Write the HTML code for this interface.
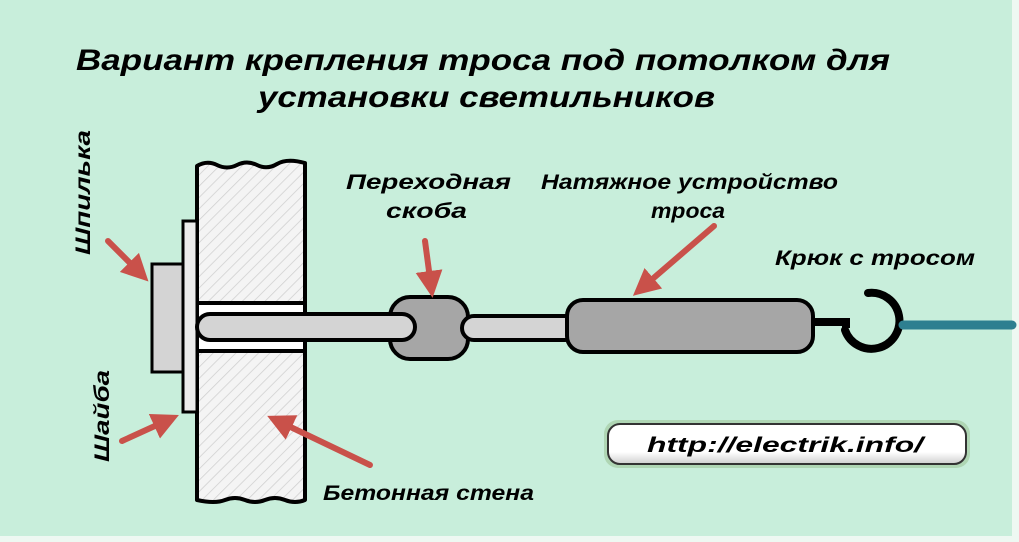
<!DOCTYPE html>
<html><head><meta charset="utf-8"><style>
html,body{margin:0;padding:0;background:#c8eedb;}
svg{display:block}
text{font-family:"Liberation Sans","DejaVu Sans",sans-serif;font-weight:bold;font-style:italic;fill:#000}
</style></head><body>
<svg width="1019" height="542" viewBox="0 0 1019 542" xmlns="http://www.w3.org/2000/svg">
<defs>
<pattern id="h" width="8" height="8" patternUnits="userSpaceOnUse" patternTransform="rotate(45)">
<rect width="8" height="8" fill="#f4f4f4"/><line x1="0" y1="0" x2="0" y2="8" stroke="#cfcfcf" stroke-width="1.5"/>
</pattern>
<marker id="a" markerWidth="4.5" markerHeight="4.5" refX="2.5" refY="2.25" orient="auto" markerUnits="strokeWidth">
<path d="M0,0 L4.5,2.25 L0,4.5 z" fill="#c9514a"/>
</marker>
<linearGradient id="g" x1="0" y1="0" x2="0" y2="1"><stop offset="0" stop-color="#fff"/><stop offset="0.7" stop-color="#fff"/><stop offset="1" stop-color="#cfcfcf"/></linearGradient>
</defs>
<rect width="1019" height="542" fill="#c8eedb"/>
<rect x="1012" y="0" width="7" height="542" fill="#eef8f2"/>
<rect x="0" y="536" width="1019" height="6" fill="#eef8f2"/>

<text x="76" y="70" font-size="30" textLength="814" lengthAdjust="spacingAndGlyphs">Вариант крепления троса под потолком для</text>
<text x="258" y="107" font-size="30" textLength="457" lengthAdjust="spacingAndGlyphs">установки светильников</text>

<!-- wall -->
<path d="M197,166 q10,-6 20,-1 t20,0 t20,0 t20,-1 t28,-1 L305,500 q-10,4 -20,0 t-20,0 t-20,0 t-20,0 t-28,0 Z" fill="url(#h)" stroke="#000" stroke-width="4" stroke-linejoin="round"/>
<rect x="197" y="303" width="108" height="48" fill="#fff" stroke="#000" stroke-width="4"/>
<!-- washer & nut -->
<rect x="183" y="221" width="14" height="191" fill="#ececec" stroke="#000" stroke-width="3"/>
<rect x="152" y="264" width="31" height="108" fill="#d4d4d4" stroke="#000" stroke-width="3"/>
<!-- coupler -->
<rect x="390" y="297" width="78" height="62" rx="20" fill="#a6a6a6" stroke="#000" stroke-width="4"/>
<!-- rod 1 -->
<rect x="197" y="314" width="218" height="26" rx="13" fill="#d4d4d4" stroke="#000" stroke-width="4"/>
<!-- tension body + rod 2 -->
<path d="M812,322 h30" stroke="#000" stroke-width="8"/>
<rect x="462" y="316" width="115" height="24" rx="12" fill="#d4d4d4" stroke="#000" stroke-width="4"/>
<rect x="567" y="300" width="246" height="52" rx="16" fill="#a6a6a6" stroke="#000" stroke-width="4"/>
<!-- hook -->
<path d="M868,293 A28,28 0 1 1 845,330" fill="none" stroke="#000" stroke-width="8" stroke-linecap="round"/>
<path d="M838,322 h8 v6" fill="none" stroke="#000" stroke-width="8"/>
<path d="M903,325 H1012" stroke="#2e7f90" stroke-width="9" stroke-linecap="round"/>

<!-- arrows -->
<g stroke="#c9514a" stroke-width="6" stroke-linecap="round" marker-end="url(#a)">
<line x1="108" y1="241" x2="140" y2="273"/>
<line x1="122" y1="441" x2="168" y2="420"/>
<line x1="370" y1="465" x2="278" y2="421"/>
<line x1="425" y1="241" x2="431" y2="286"/>
<line x1="714" y1="226" x2="642" y2="288"/>
</g>

<text x="346" y="189" font-size="21" textLength="165" lengthAdjust="spacingAndGlyphs">Переходная</text>
<text x="386" y="218" font-size="21" textLength="81" lengthAdjust="spacingAndGlyphs">скоба</text>
<text x="541" y="189" font-size="21" textLength="297" lengthAdjust="spacingAndGlyphs">Натяжное устройство</text>
<text x="651" y="218" font-size="21" textLength="74" lengthAdjust="spacingAndGlyphs">троса</text>
<text x="775" y="265" font-size="21" textLength="200" lengthAdjust="spacingAndGlyphs">Крюк с тросом</text>
<text x="323" y="500" font-size="21" textLength="211" lengthAdjust="spacingAndGlyphs">Бетонная стена</text>
<text transform="translate(90,255) rotate(-90)" font-size="21" textLength="125" lengthAdjust="spacingAndGlyphs">Шпилька</text>
<text transform="translate(109,462) rotate(-90)" font-size="21" textLength="92" lengthAdjust="spacingAndGlyphs">Шайба</text>

<!-- url box -->
<rect x="604" y="420" width="366" height="48" rx="14" fill="#9fc79a" opacity="0.6"/>
<rect x="608" y="424" width="358" height="40" rx="12" fill="url(#g)" stroke="#333" stroke-width="2"/>
<text x="647" y="452" font-size="21" textLength="276" lengthAdjust="spacingAndGlyphs">http://electrik.info/</text>
</svg>
</body></html>
